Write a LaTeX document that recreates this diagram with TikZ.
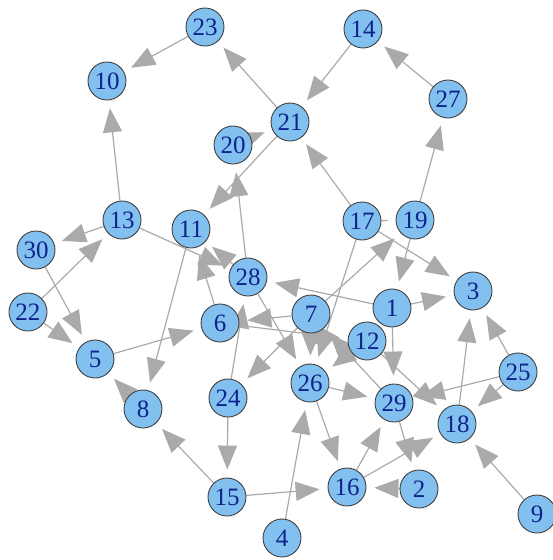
\documentclass[tikz,border=0pt]{standalone}
\usepackage{fontspec}
\setmainfont{Liberation Serif}
\usetikzlibrary{arrows.meta,backgrounds}
\definecolor{vertexblue}{RGB}{130,192,240}
\definecolor{labelblue}{RGB}{15,35,140}
\definecolor{edgegray}{RGB}{170,170,170}

\begin{document}
\begin{tikzpicture}[x=1pt, y=-1pt,
    vertex/.style={circle, draw=black!75, line width=0.9pt, fill=vertexblue,
        minimum size=38pt, inner sep=0pt, text=labelblue,
        font=\fontsize{25}{25}\selectfont},
    link/.style={draw=edgegray, line width=1.2pt,
        -{Triangle[length=24pt, width=19pt]}, shorten >=8pt}]
    \useasboundingbox (0,0) rectangle (552,560);

    % 1. Vertices
    \foreach \i/\x/\y in {1/392/308, 2/419/489, 3/473/291, 4/282/538,
        5/95/359, 6/220/323, 7/311/314, 8/143/409, 9/537/514, 10/107/81,
        11/191/229, 12/367/341, 13/122/220, 14/363/29, 15/227/497,
        16/347/487, 17/362/221, 18/457/424, 19/415/220, 20/233/145,
        21/290/122, 22/28/312, 23/205/27, 24/228/398, 25/518/372,
        26/310/383, 27/448/99, 28/248/277, 29/394/403, 30/36/250}
        \node[vertex] (n\i) at (\x,\y) {\i};

    % 2. Directed edges, behind the vertices
    \begin{scope}[on background layer]
    \foreach \a/\b in {23/10, 13/10, 21/23, 14/21, 27/14, 19/27, 17/21,
        20/21, 28/20, 21/11, 13/30, 22/13, 30/5, 22/5, 5/6, 11/8, 8/5,
        15/8, 24/15, 15/16, 4/26, 26/16, 16/29, 2/16, 29/2, 16/18, 9/18,
        18/3, 25/3, 25/18, 25/29, 1/3, 17/3, 7/19, 19/1, 28/11, 6/11,
        13/28, 1/28, 7/6, 6/12, 28/26, 17/26, 7/24, 26/29, 1/29, 12/18,
        24/28, 29/7, 12/26, 7/26}
        \draw[link] (n\a) -- (n\b);
    \draw[link, -] (n17) -- (n19);
    \end{scope}
\end{tikzpicture}
\end{document}
